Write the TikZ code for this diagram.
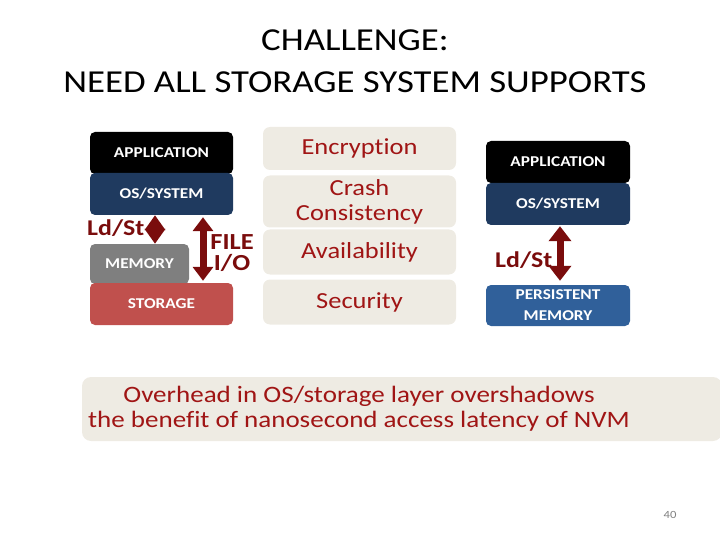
\documentclass[tikz,border=0pt]{standalone}
\usepackage{fontspec}
\setmainfont{Carlito}[FakeStretch=1.15, Ligatures=NoCommon]
\usetikzlibrary{arrows.meta,calc}
\definecolor{osblue}{HTML}{1F3A5F}
\definecolor{pmblue}{HTML}{30609A}
\definecolor{memgray}{HTML}{7F7F7F}
\definecolor{storred}{HTML}{C0504D}
\definecolor{beige}{HTML}{EEEBE3}
\definecolor{txtred}{HTML}{A01515}
\definecolor{arrred}{HTML}{7A0C0C}
\tikzset{
  layer/.style={rounded corners=5pt, text=white, font=\bfseries\fontsize{15}{21}\selectfont, align=center, inner sep=0pt},
  prop/.style={fill=beige, rounded corners=7pt, text=txtred, font=\fontsize{23}{25}\selectfont, align=center, inner sep=0pt},
  lbl/.style={text=arrred, font=\bfseries\fontsize{22.5}{20}\selectfont, align=center, inner sep=0pt},
}
\begin{document}
\begin{tikzpicture}[x=1pt,y=-1pt]
\useasboundingbox (0,0) rectangle (720,540);
% title
\node[font=\fontsize{32}{42}\selectfont, align=center] (title) at (355,61) {CHALLENGE:\\NEED ALL STORAGE SYSTEM SUPPORTS};
% left stack
\node[layer, fill=black, minimum width=143pt, minimum height=42pt] (app1) at (161.5,153) {APPLICATION};
\node[layer, fill=osblue, minimum width=143pt, minimum height=42pt] (os1) at (161.5,194) {OS/SYSTEM};
\node[layer, fill=memgray, minimum width=99pt, minimum height=40pt] (mem) at (139.5,264) {MEMORY};
\node[layer, fill=storred, minimum width=143pt, minimum height=42pt] (stor) at (161.5,304) {STORAGE};
\node[lbl, anchor=west] (ldst1) at (87,228) {Ld/St};
\draw[arrred, line width=4pt, {Triangle[width=20pt,length=15pt]}-{Triangle[width=20pt,length=15pt]}] (os1.south -| 155,0) -- (mem.north -| 155,0);
\draw[arrred, line width=7pt, {Triangle[width=20pt,length=14pt]}-{Triangle[width=20pt,length=14pt]}] ($(os1.south -| 203,0)+(0,2)$) -- ($(stor.north -| 203,0)+(0,-2)$);
\node[lbl, font=\bfseries\fontsize{23}{21}\selectfont] (fileio) at (232,253) {FILE\\I/O};
% middle props
\node[prop, minimum width=193pt, minimum height=43pt] (enc) at (359.5,148.5) {Encryption};
\node[prop, minimum width=193pt, minimum height=52pt] (crash) at (359.5,201.5) {Crash\\Consistency};
\node[prop, minimum width=193pt, minimum height=45pt] (avail) at (359.5,252) {Availability};
\node[prop, minimum width=193pt, minimum height=45pt] (sec) at (359.5,302) {Security};
% right stack
\node[layer, fill=black, minimum width=144pt, minimum height=42pt] (app2) at (558,162) {APPLICATION};
\node[layer, fill=osblue, minimum width=144pt, minimum height=42pt] (os2) at (558,204) {OS/SYSTEM};
\node[layer, fill=pmblue, minimum width=144pt, minimum height=41pt] (pm) at (558,305.5) {PERSISTENT\\MEMORY};
\node[lbl, anchor=west] (ldst2) at (495,260) {Ld/St};
\draw[arrred, line width=7pt, {Triangle[width=22pt,length=15pt]}-{Triangle[width=22pt,length=15pt]}] ($(os2.south -| 560,0)+(0,1)$) -- ($(pm.north -| 560,0)+(0,-4)$);
% banner
\node[fill=beige, rounded corners=9pt, minimum width=640pt, minimum height=64pt, inner sep=0pt] (banner) at (402,409) {};
\node[text=txtred, font=\fontsize{23.5}{25}\selectfont, align=center] (msg) at (359,409) {Overhead in OS/storage layer overshadows\\the benefit of nanosecond access latency of NVM};
\node[text=gray, font=\fontsize{11}{12}\selectfont] (pg) at (670,515) {40};
\end{tikzpicture}
\end{document}
